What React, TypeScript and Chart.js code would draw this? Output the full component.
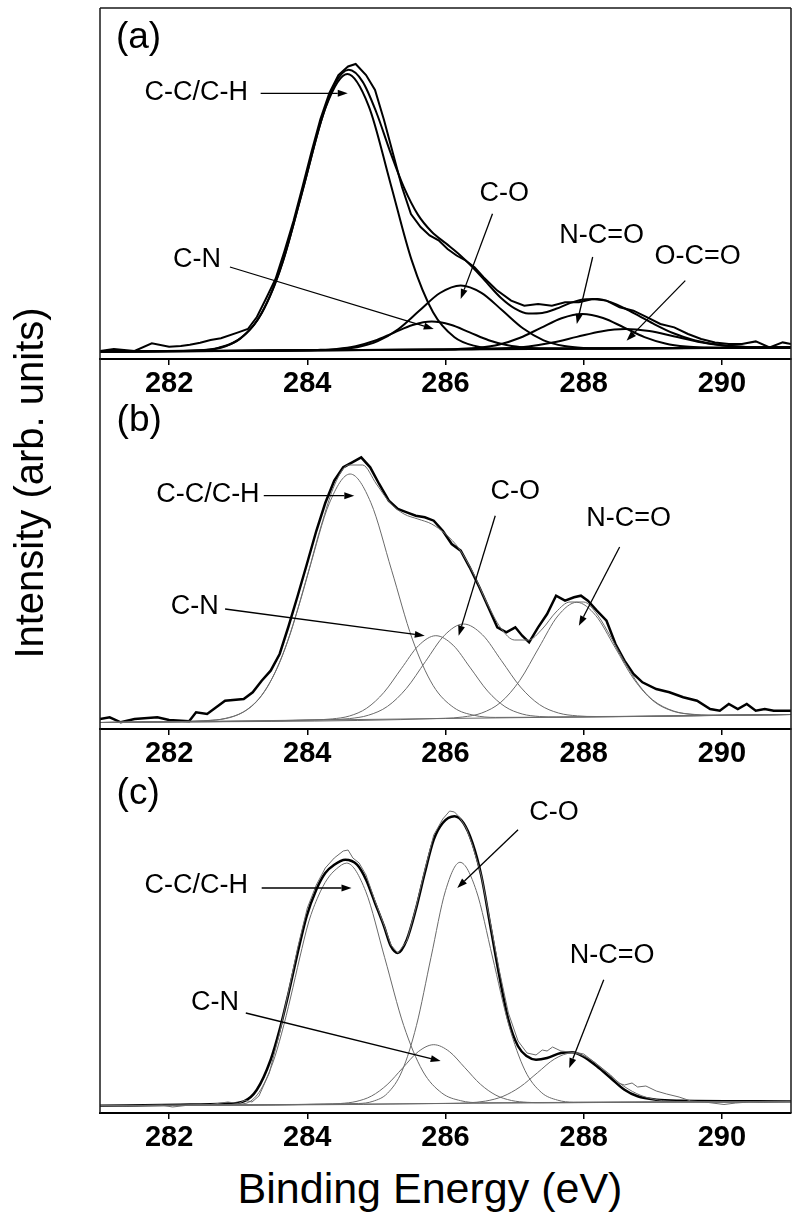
import React, { useEffect, useRef } from "react";
import { Chart, registerables } from "chart.js";

Chart.register(...registerables);

// ---------------- shared axis data ----------------
const energyMin = 281;
const energyMax = 291;
const tickValues = [282, 284, 286, 288, 290];

// ---------------- panel (a) ----------------
const aBaseE = [281, 291];
const aBaseI = [7.5, 11.5];
const aExpE = [281.0, 281.2, 281.5, 281.75, 282.0, 282.17, 282.3, 282.45, 282.6, 282.75, 283.0, 283.14, 283.27, 283.4, 283.54, 283.67, 283.8, 283.93, 284.06, 284.19, 284.32, 284.45, 284.59, 284.7, 284.85, 284.98, 285.11, 285.24, 285.37, 285.5, 285.64, 285.77, 285.9, 286.03, 286.16, 286.29, 286.42, 286.55, 286.75, 286.95, 287.14, 287.34, 287.54, 287.73, 287.93, 288.13, 288.33, 288.52, 288.72, 288.92, 289.11, 289.31, 289.51, 289.7, 289.9, 290.1, 290.29, 290.49, 290.69, 290.88, 291.0];
const aExpI = [8, 10, 8, 15.7, 12.3, 13, 14.3, 16.3, 19, 20.7, 26.6, 30, 42, 60, 80, 108, 138, 172, 207, 240, 266, 284, 292.5, 295, 284, 269, 239, 205.5, 172, 145, 132, 123.6, 118.6, 110, 103.5, 98.5, 91.8, 81.8, 68.4, 58.4, 53.3, 55, 53.3, 56.7, 56.7, 60, 58.4, 51.7, 48.3, 41.6, 35, 31.6, 25, 20, 16.6, 15, 15, 17.6, 11.5, 16.6, 15];
const aEnvE = [281, 282, 282.5, 283, 283.3, 283.6, 283.9, 284.2, 284.4, 284.6, 284.8, 285.0, 285.2, 285.4, 285.6, 285.8, 286.0, 286.2, 286.4, 286.6, 286.8, 287.0, 287.2, 287.4, 287.6, 287.8, 288.0, 288.2, 288.4, 288.6, 288.8, 289.0, 289.3, 289.6, 290.0, 290.5, 291];
const aEnvI = [7.5, 7.9, 8.8, 19.1, 41.2, 87.7, 160, 238, 275.2, 289.2, 277.4, 246.5, 207.2, 171.4, 144.4, 127.3, 115.9, 104.6, 91.3, 76.1, 61.3, 50.7, 45.6, 46.1, 50.2, 55.9, 59.6, 60.0, 56.6, 50.5, 43.1, 35.6, 25.7, 18.8, 13.8, 11.8, 11.5];
const aCCE = [281, 282.41, 282.72, 283.03, 283.34, 283.65, 283.96, 284.27, 284.58, 284.89, 285.2, 285.51, 285.82, 286.13, 286.44, 286.75, 291];
const aCCI = [7.5, 8.7, 11.3, 20.4, 45.7, 98.2, 176.1, 252.4, 284.9, 252.7, 176.6, 98.9, 46.7, 21.7, 12.8, 10.4, 11.5];
const aCNE = [281, 283.875, 284.15, 284.425, 284.7, 284.975, 285.25, 285.525, 285.8, 286.075, 286.35, 286.625, 286.9, 287.175, 287.45, 287.725, 291];
const aCNI = [7.5, 8.7, 9.1, 10.1, 12.8, 18.2, 26.2, 34.0, 37.4, 34.2, 26.6, 18.8, 13.7, 11.2, 10.4, 10.3, 11.5];
const aCOE = [281, 284.12, 284.42, 284.72, 285.02, 285.32, 285.62, 285.92, 286.22, 286.52, 286.82, 287.12, 287.42, 287.72, 288.02, 288.32, 291];
const aCOI = [7.5, 8.9, 9.6, 11.8, 17.8, 30.0, 48.2, 66.0, 73.6, 66.2, 48.7, 30.7, 18.7, 13.0, 11.0, 10.6, 11.5];
const aNCOE = [281, 285.88, 286.18, 286.48, 286.78, 287.08, 287.38, 287.68, 287.98, 288.28, 288.58, 288.88, 289.18, 289.48, 289.78, 290.08, 291];
const aNCOI = [7.5, 9.5, 10.0, 11.2, 14.5, 21.2, 31.1, 40.8, 45.0, 41.0, 31.6, 21.9, 15.5, 12.4, 11.4, 11.2, 11.5];
const aOCOE = [281, 286.15, 286.5, 286.85, 287.2, 287.55, 287.9, 288.25, 288.6, 288.95, 289.3, 289.65, 290.0, 290.35, 290.7, 291];
const aOCOI = [7.5, 9.6, 9.9, 10.7, 12.6, 16.5, 22.1, 27.6, 30.0, 27.9, 22.7, 17.3, 13.7, 12.1, 11.6, 11.5];

// ---------------- panel (b) ----------------
const bBaseE = [281, 291];
const bBaseI = [6.5, 14.5];
const bExpE = [281.0, 281.14, 281.3, 281.5, 281.83, 282.0, 282.29, 282.39, 282.55, 282.81, 283.08, 283.21, 283.34, 283.47, 283.6, 283.73, 283.86, 283.99, 284.13, 284.26, 284.39, 284.52, 284.65, 284.78, 284.91, 285.04, 285.18, 285.31, 285.44, 285.57, 285.7, 285.83, 285.96, 286.09, 286.22, 286.35, 286.49, 286.62, 286.75, 286.88, 287.01, 287.11, 287.21, 287.34, 287.47, 287.6, 287.73, 287.86, 287.96, 288.06, 288.19, 288.33, 288.46, 288.59, 288.72, 288.85, 289.05, 289.24, 289.44, 289.64, 289.83, 289.97, 290.1, 290.23, 290.36, 290.49, 290.62, 290.75, 291.0];
const bExpI = [10, 11.7, 6.7, 10, 11.7, 9, 7.7, 16.7, 15, 28.3, 30, 36.7, 48.3, 58.3, 75, 103, 133, 164, 198, 226, 248.3, 261.7, 266.7, 271.7, 261.7, 245, 228.3, 220, 216.7, 213.3, 211.7, 208.3, 198.3, 185, 178.3, 161.7, 141.7, 121.7, 101.7, 96.7, 101.7, 93.3, 86.7, 101.7, 115, 133.3, 128.3, 131.7, 133.3, 128.3, 118.3, 108.3, 85, 68.3, 55, 46.7, 40, 36.7, 31.7, 28.3, 20, 18.3, 25, 20, 25, 18.3, 20, 18.3, 18.3];
const bEnvE = [281, 282, 282.5, 283.0, 283.3, 283.6, 283.9, 284.2, 284.4, 284.6, 284.8, 285.0, 285.2, 285.4, 285.6, 285.8, 286.0, 286.2, 286.4, 286.6, 286.8, 287.0, 287.2, 287.4, 287.6, 287.8, 288.0, 288.2, 288.4, 288.6, 288.8, 289.0, 289.3, 289.6, 290.0, 290.5, 291];
const bEnvI = [6.5, 7.3, 8.2, 14.5, 30.2, 66.6, 128.4, 203, 245, 264, 264, 245, 226, 215, 210, 205, 195, 180, 156, 126, 101, 89, 89, 100, 117, 127, 127, 114, 91, 66, 44, 29, 18, 14.6, 13.8, 14.1, 14.5];
const bCCE = [281, 282.52, 282.82, 283.12, 283.42, 283.72, 284.02, 284.32, 284.62, 284.92, 285.22, 285.52, 285.82, 286.12, 286.42, 286.72, 291];
const bCCI = [6.5, 8.3, 10.7, 19.0, 41.7, 88.4, 157.9, 225.9, 255.0, 226.3, 158.8, 89.9, 43.6, 21.4, 13.6, 11.6, 14.5];
const bCNE = [281, 284.11, 284.36, 284.61, 284.86, 285.11, 285.36, 285.61, 285.86, 286.11, 286.36, 286.61, 286.86, 287.11, 287.36, 287.61, 291];
const bCNI = [6.5, 9.2, 10.1, 13.0, 20.8, 36.7, 60.3, 83.4, 93.3, 83.8, 61.1, 37.9, 22.4, 15.0, 12.5, 12.0, 14.5];
const bCOE = [281, 284.335, 284.61, 284.885, 285.16, 285.435, 285.71, 285.985, 286.26, 286.535, 286.81, 287.085, 287.36, 287.635, 287.91, 288.185, 291];
const bCOI = [6.5, 9.4, 10.4, 13.8, 22.6, 40.7, 67.5, 93.7, 105.0, 94.2, 68.3, 42.0, 24.4, 16.0, 13.1, 12.5, 14.5];
const bNCOE = [281, 285.975, 286.25, 286.525, 286.8, 287.075, 287.35, 287.625, 287.9, 288.175, 288.45, 288.725, 289.0, 289.275, 289.55, 289.825, 291];
const bNCOI = [6.5, 10.7, 12.0, 16.0, 26.7, 48.6, 81.2, 113.0, 126.7, 113.4, 82.0, 49.9, 28.4, 18.2, 14.6, 13.8, 14.5];

// ---------------- panel (c) ----------------
const cBaseE = [281, 291];
const cBaseI = [7.3, 11.7];
const cEnvE = [281, 282.16, 282.81, 283.08, 283.27, 283.47, 283.6, 283.73, 283.86, 283.99, 284.13, 284.26, 284.39, 284.55, 284.72, 284.85, 284.98, 285.11, 285.21, 285.31, 285.44, 285.57, 285.7, 285.83, 285.96, 286.13, 286.26, 286.39, 286.52, 286.65, 286.78, 286.91, 287.05, 287.18, 287.31, 287.47, 287.67, 287.83, 287.99, 288.19, 288.39, 288.59, 288.78, 289.05, 289.38, 291];
const cEnvI = [7.3, 8.3, 9.3, 11.7, 23.3, 53.3, 83.3, 120, 160, 196.7, 223.3, 240, 248.3, 253.3, 248.3, 233.3, 210, 186.7, 166.7, 160, 173.3, 203.3, 240, 273.3, 290, 296.7, 290, 270, 236.7, 186.7, 136.7, 93.3, 66.7, 56.7, 53.3, 55, 60, 60.7, 56.7, 46.7, 35, 23.3, 16.7, 13.3, 12.3, 11.7];
const cExpE = [281.0, 281.3, 281.6, 281.9, 282.05, 282.3, 282.6, 282.85, 283.0, 283.1, 283.2, 283.3, 283.45, 283.6, 283.73, 283.86, 284.0, 284.13, 284.26, 284.39, 284.52, 284.59, 284.66, 284.75, 284.85, 284.98, 285.11, 285.21, 285.31, 285.44, 285.57, 285.7, 285.83, 285.96, 286.06, 286.13, 286.2, 286.3, 286.39, 286.52, 286.65, 286.78, 286.91, 287.05, 287.18, 287.31, 287.4, 287.47, 287.55, 287.67, 287.8, 287.93, 288.0, 288.19, 288.39, 288.5, 288.59, 288.7, 288.78, 288.9, 289.05, 289.2, 289.38, 289.55, 289.75, 290.03, 290.2, 290.4, 290.6, 290.8, 291.0];
const cExpI = [7.5, 7, 7.5, 7.8, 6, 8, 8.5, 11, 9.5, 12.7, 11, 17, 40, 80, 122, 165, 205, 228, 245, 255, 262, 263, 255, 250, 238, 212, 188, 168, 160, 172, 205, 243, 278, 294, 302, 301, 296, 285, 268, 237, 190, 142, 100, 72, 60, 58, 63, 62, 66, 62, 61, 60, 59, 49, 38, 30, 28, 30, 26, 27, 22, 19, 16, 12, 11, 8.5, 10, 11, 10.5, 11, 11.5];
const cCCE = [281, 282.8, 283.1, 283.3, 283.5, 283.63, 283.76, 283.89, 284.02, 284.16, 284.29, 284.42, 284.57, 284.845, 285.12, 285.395, 285.67, 285.945, 286.22, 286.495, 291];
const cCCI = [7.3, 8.1, 9.5, 20.5, 50, 80, 116, 155, 191, 217, 234, 244, 249.9, 221.7, 155.3, 87.5, 42.0, 20.1, 12.3, 10.3, 11.7];
const cCNE = [281, 284.255, 284.48, 284.705, 284.93, 285.155, 285.38, 285.605, 285.83, 286.055, 286.28, 286.505, 286.73, 286.955, 287.18, 287.405, 291];
const cCNI = [7.3, 8.9, 9.5, 11.5, 17.0, 28.3, 45.0, 61.3, 68.3, 61.5, 45.3, 28.8, 17.8, 12.5, 10.7, 10.3, 11.7];
const cCOE = [281, 284.74, 284.95, 285.16, 285.37, 285.58, 285.79, 286.0, 286.21, 286.445, 286.68, 286.915, 287.15, 287.385, 287.62, 287.855, 291];
const cCOI = [7.3, 9.5, 11.7, 19.7, 41.8, 87.6, 155.6, 222.3, 250.7, 222.5, 156.0, 88.2, 42.6, 20.7, 12.9, 10.8, 11.7];
const cNCOE = [281, 286.08, 286.33, 286.58, 286.83, 287.08, 287.33, 287.58, 287.83, 288.08, 288.33, 288.58, 288.83, 289.08, 289.33, 289.58, 291];
const cNCOI = [7.3, 9.7, 10.2, 11.9, 16.6, 26.1, 40.2, 54.1, 60.0, 54.3, 40.7, 26.8, 17.5, 13.0, 11.5, 11.2, 11.7];

// ---------------- annotations (data coordinates: energy, intensity) ----------------
type Note = { text: string; e: number; v: number; align: CanvasTextAlign; size?: number; arrow?: number[] };

const aNotes: Note[] = [
  { text: "(a)", e: 281.23, v: 321, align: "left", size: 37 },
  { text: "C-C/C-H", e: 283.14, v: 266, align: "right", arrow: [283.325, 265.7, 284.585, 265.7] },
  { text: "C-N", e: 282.75, v: 99.3, align: "right", arrow: [282.88, 92, 285.83, 30] },
  { text: "C-O", e: 286.85, v: 165.4, align: "center", arrow: [286.68, 145.3, 286.22, 60] },
  { text: "N-C=O", e: 288.26, v: 123.8, align: "center", arrow: [288.13, 102, 287.9, 35] },
  { text: "O-C=O", e: 289.65, v: 102, align: "center", arrow: [289.47, 78.4, 288.62, 18.2] },
];
const bNotes: Note[] = [
  { text: "(b)", e: 281.24, v: 308.3, align: "left", size: 37 },
  { text: "C-C/C-H", e: 283.31, v: 234, align: "right", arrow: [283.37, 233.3, 284.68, 233.3] },
  { text: "C-O", e: 287.01, v: 237, align: "center", arrow: [286.72, 213.3, 286.19, 93.3] },
  { text: "N-C=O", e: 288.65, v: 210, align: "center", arrow: [288.52, 182, 287.93, 103.3] },
  { text: "C-N", e: 282.72, v: 122.7, align: "right", arrow: [282.81, 120, 285.7, 93.3] },
];
const cNotes: Note[] = [
  { text: "(c)", e: 281.24, v: 319, align: "left", size: 37 },
  { text: "C-O", e: 287.57, v: 300, align: "center", arrow: [287.05, 283.3, 286.17, 225] },
  { text: "C-C/C-H", e: 283.14, v: 227.7, align: "right", arrow: [283.34, 225, 284.64, 225] },
  { text: "N-C=O", e: 288.41, v: 157.7, align: "center", arrow: [288.29, 133.3, 287.79, 45] },
  { text: "C-N", e: 283.01, v: 110.7, align: "right", arrow: [283.11, 100, 285.93, 52] },
];

// ---------------- styling ----------------
const FONT = "'Liberation Sans', Arial, Helvetica, sans-serif";
const TICK_FONT = "'Liberation Sans Narrow', 'Arial Narrow', 'Liberation Sans', Arial, sans-serif";
const BLACK = "#000000";
const GRAY = "#6a6a6a";

type Line = { e: number[]; v: number[]; color: string; width: number; smooth: boolean };
type Panel = {
  key: string; top: number; height: number; padTop: number; yMax: number;
  frame: "first" | "middle" | "last"; lines: Line[]; notes: Note[];
};

const panels: Panel[] = [
  {
    key: "a", top: 0, height: 400, padTop: 8, yMax: 351, frame: "first", notes: aNotes,
    lines: [
      { e: aBaseE, v: aBaseI, color: BLACK, width: 2, smooth: false },
      { e: aCCE, v: aCCI, color: BLACK, width: 2, smooth: true },
      { e: aCNE, v: aCNI, color: BLACK, width: 2, smooth: true },
      { e: aCOE, v: aCOI, color: BLACK, width: 2, smooth: true },
      { e: aNCOE, v: aNCOI, color: BLACK, width: 2, smooth: true },
      { e: aOCOE, v: aOCOI, color: BLACK, width: 2, smooth: true },
      { e: aEnvE, v: aEnvI, color: BLACK, width: 2, smooth: true },
      { e: aExpE, v: aExpI, color: BLACK, width: 2, smooth: false },
    ],
  },
  {
    key: "b", top: 400, height: 370, padTop: 0, yMax: 329, frame: "middle", notes: bNotes,
    lines: [
      { e: bBaseE, v: bBaseI, color: GRAY, width: 1, smooth: false },
      { e: bCCE, v: bCCI, color: GRAY, width: 1, smooth: true },
      { e: bCNE, v: bCNI, color: GRAY, width: 1, smooth: true },
      { e: bCOE, v: bCOI, color: GRAY, width: 1, smooth: true },
      { e: bNCOE, v: bNCOI, color: GRAY, width: 1, smooth: true },
      { e: bEnvE, v: bEnvI, color: GRAY, width: 1, smooth: true },
      { e: bExpE, v: bExpI, color: BLACK, width: 2.5, smooth: false },
    ],
  },
  {
    key: "c", top: 770, height: 384, padTop: 0, yMax: 343, frame: "last", notes: cNotes,
    lines: [
      { e: cBaseE, v: cBaseI, color: GRAY, width: 1, smooth: false },
      { e: cCCE, v: cCCI, color: GRAY, width: 1, smooth: true },
      { e: cCNE, v: cCNI, color: GRAY, width: 1, smooth: true },
      { e: cCOE, v: cCOI, color: GRAY, width: 1, smooth: true },
      { e: cNCOE, v: cNCOI, color: GRAY, width: 1, smooth: true },
      { e: cExpE, v: cExpI, color: GRAY, width: 1, smooth: false },
      { e: cEnvE, v: cEnvI, color: BLACK, width: 2.5, smooth: true },
    ],
  },
];

function toPoints(e: number[], v: number[]) {
  const n = Math.min(e.length, v.length);
  const out: { x: number; y: number }[] = [];
  for (let k = 0; k < n; k++) out.push({ x: e[k], y: v[k] });
  return out;
}

function framePlugin(mode: string) {
  return {
    id: "frame-" + mode,
    afterDraw(chart: any) {
      const { ctx, chartArea: a, height } = chart;
      ctx.save();
      ctx.strokeStyle = "#1a1a1a";
      ctx.lineWidth = 1.5;
      const y0 = mode === "first" ? a.top : 0;
      const y1 = mode === "last" ? a.bottom : height;
      ctx.beginPath();
      ctx.moveTo(a.left, y0);
      ctx.lineTo(a.left, y1);
      ctx.moveTo(a.right, y0);
      ctx.lineTo(a.right, y1);
      if (mode === "first") {
        ctx.moveTo(a.left, a.top);
        ctx.lineTo(a.right, a.top);
      }
      ctx.stroke();
      ctx.restore();
    },
  };
}

function notesPlugin(notes: Note[]) {
  return {
    id: "notes",
    afterDatasetsDraw(chart: any) {
      const xs = chart.scales.x;
      const ys = chart.scales.y;
      const ctx: CanvasRenderingContext2D = chart.ctx;
      ctx.save();
      for (const n of notes) {
        if (n.arrow) {
          const x0 = xs.getPixelForValue(n.arrow[0]);
          const y0 = ys.getPixelForValue(n.arrow[1]);
          const x1 = xs.getPixelForValue(n.arrow[2]);
          const y1 = ys.getPixelForValue(n.arrow[3]);
          const ang = Math.atan2(y1 - y0, x1 - x0);
          const hl = 10;
          const hw = 3.5;
          const bx = x1 - hl * Math.cos(ang);
          const by = y1 - hl * Math.sin(ang);
          ctx.strokeStyle = "#000";
          ctx.lineWidth = 1.3;
          ctx.beginPath();
          ctx.moveTo(x0, y0);
          ctx.lineTo(bx, by);
          ctx.stroke();
          ctx.fillStyle = "#000";
          ctx.beginPath();
          ctx.moveTo(x1, y1);
          ctx.lineTo(bx + hw * Math.sin(ang), by - hw * Math.cos(ang));
          ctx.lineTo(bx - hw * Math.sin(ang), by + hw * Math.cos(ang));
          ctx.closePath();
          ctx.fill();
        }
        ctx.fillStyle = "#000";
        ctx.font = `${n.size ?? 27}px ${FONT}`;
        ctx.textAlign = n.align;
        ctx.textBaseline = "middle";
        ctx.fillText(n.text, xs.getPixelForValue(n.e), ys.getPixelForValue(n.v));
      }
      ctx.restore();
    },
  };
}

function makeConfig(p: Panel): any {
  return {
    type: "line",
    data: {
      datasets: p.lines.map((l, i) => ({
        label: p.key + i,
        data: toPoints(l.e, l.v),
        borderColor: l.color,
        borderWidth: l.width,
        pointRadius: 0,
        fill: false,
        cubicInterpolationMode: l.smooth ? "monotone" : "default",
        tension: 0,
      })),
    },
    options: {
      animation: false,
      responsive: false,
      maintainAspectRatio: false,
      events: [],
      layout: { padding: { left: 100, right: 9, top: p.padTop, bottom: 0 } },
      plugins: { legend: { display: false }, tooltip: { enabled: false }, title: { display: false } },
      scales: {
        x: {
          type: "linear",
          min: energyMin,
          max: energyMax,
          afterBuildTicks: (s: any) => {
            s.ticks = tickValues.map((v) => ({ value: v }));
          },
          afterFit: (s: any) => {
            s.height = 41;
          },
          grid: { display: true, drawOnChartArea: false, drawTicks: true, tickLength: 6, color: "#000", lineWidth: 1.5 },
          border: { display: true, color: "#000", width: 2 },
          ticks: {
            color: "#000",
            padding: 2,
            maxRotation: 0,
            autoSkip: false,
            font: { family: TICK_FONT, size: 29, weight: "bold" },
            callback: (v: any) => String(v),
          },
        },
        y: { display: false, min: 0, max: p.yMax },
      },
    },
    plugins: [framePlugin(p.frame), notesPlugin(p.notes)],
  };
}

export default function App() {
  const canvasRefs = useRef<(HTMLCanvasElement | null)[]>([]);

  useEffect(() => {
    const charts = panels.map((p, i) => new Chart(canvasRefs.current[i] as HTMLCanvasElement, makeConfig(p)));
    return () => charts.forEach((c) => c.destroy());
  }, []);

  return (
    <div style={{ position: "absolute", left: 0, top: 0, width: 800, height: 1224, background: "#fff", overflow: "hidden" }}>
      {panels.map((p, i) => (
        <canvas
          key={p.key}
          ref={(el) => {
            canvasRefs.current[i] = el;
          }}
          width={800}
          height={p.height}
          style={{ position: "absolute", left: 0, top: p.top, width: 800, height: p.height }}
        />
      ))}
      <div
        style={{
          position: "absolute",
          left: 29 - 300,
          top: 483 - 25,
          width: 600,
          height: 50,
          lineHeight: "50px",
          fontSize: 40,
          fontFamily: FONT,
          textAlign: "center",
          whiteSpace: "nowrap",
          transform: "rotate(-90deg)",
          color: "#000",
        }}
      >
        Intensity (arb. units)
      </div>
      <div
        style={{
          position: "absolute",
          left: 130,
          top: 1163,
          width: 600,
          height: 50,
          lineHeight: "50px",
          fontSize: 43,
          fontFamily: FONT,
          textAlign: "center",
          whiteSpace: "nowrap",
          color: "#000",
        }}
      >
        Binding Energy (eV)
      </div>
    </div>
  );
}
